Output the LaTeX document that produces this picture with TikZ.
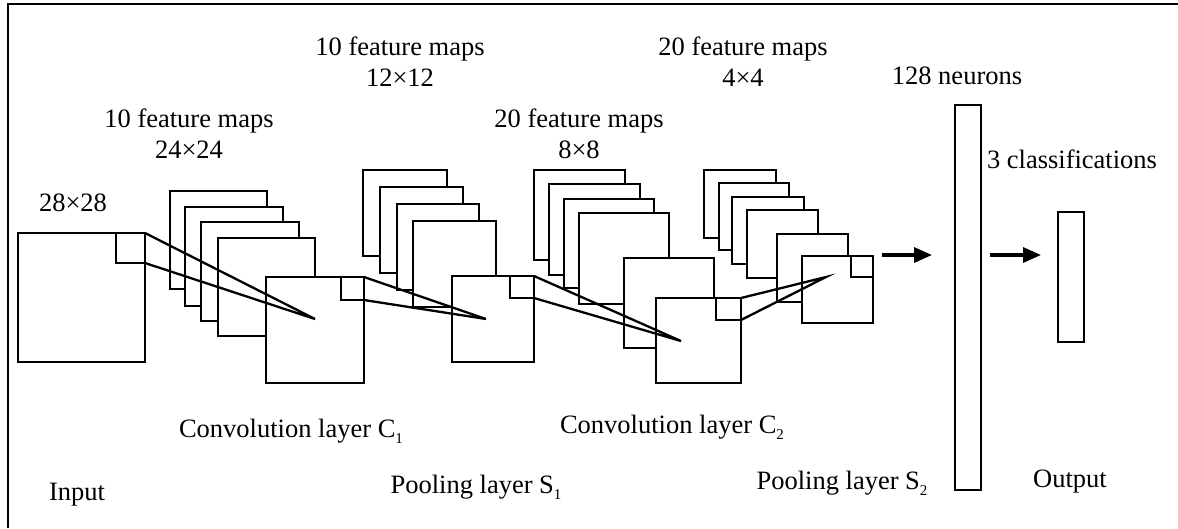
\documentclass[tikz,border=0pt]{standalone}
\usepackage{fontspec}
\setmainfont{Liberation Serif}
\usetikzlibrary{arrows.meta}
\newcommand\sbs[1]{\raisebox{-0.25em}{\fontsize{15}{16}\selectfont #1}}
\begin{document}
\begin{tikzpicture}[x=1pt,y=-1pt,
  fmap/.style={draw, fill=white, line width=2.8pt, inner sep=0pt, outer sep=0pt, anchor=north west},
  wire/.style={line width=2.3pt},
  lbl/.style={anchor=base, inner sep=0pt, font=\fontsize{26.5}{30}\selectfont},
  flow/.style={line width=3.2pt, -{Triangle[length=18pt,width=15pt]}},
  frameline/.style={line width=2.8pt}]
\useasboundingbox (0,0) rectangle (1178,528);
\draw[frameline] (8,528) -- (8,4) -- (1178,4);

% Input
\node[fmap, minimum width=127pt, minimum height=129pt] (in) at (18,233) {};
\node[fmap, minimum width=29pt, minimum height=30pt, anchor=north east] (ins) at (in.north east) {};

% C1
\node[fmap, minimum width=97pt, minimum height=98pt] (c1a) at (170,191) {};
\node[fmap, minimum width=98pt, minimum height=99pt] (c1b) at (185,207) {};
\node[fmap, minimum width=98pt, minimum height=99pt] (c1c) at (201,222) {};
\node[fmap, minimum width=97pt, minimum height=98pt] (c1d) at (218,238) {};
\node[fmap, minimum width=98pt, minimum height=106pt] (c1f) at (266,277) {};
\node[fmap, minimum width=23pt, minimum height=23pt, anchor=north east] (c1s) at (c1f.north east) {};

% S1
\node[fmap, minimum width=84pt, minimum height=86pt] (s1a) at (363,170) {};
\node[fmap, minimum width=83pt, minimum height=86pt] (s1b) at (380,187) {};
\node[fmap, minimum width=82pt, minimum height=86pt] (s1c) at (397,204) {};
\node[fmap, minimum width=83pt, minimum height=86pt] (s1d) at (413,221) {};
\node[fmap, minimum width=82pt, minimum height=86pt] (s1f) at (452,276) {};
\node[fmap, minimum width=24pt, minimum height=22pt, anchor=north east] (s1s) at (s1f.north east) {};

% C2
\node[fmap, minimum width=91pt, minimum height=90pt] (c2a) at (534,170) {};
\node[fmap, minimum width=91pt, minimum height=91pt] (c2b) at (549,184) {};
\node[fmap, minimum width=90pt, minimum height=89pt] (c2c) at (564,199) {};
\node[fmap, minimum width=90pt, minimum height=91pt] (c2d) at (579,213) {};
\node[fmap, minimum width=90pt, minimum height=90pt] (c2e) at (624,258) {};
\node[fmap, minimum width=85pt, minimum height=85pt] (c2f) at (656,298) {};
\node[fmap, minimum width=25pt, minimum height=22pt, anchor=north east] (c2s) at (c2f.north east) {};

% S2
\node[fmap, minimum width=72pt, minimum height=68pt] (s2a) at (704,170) {};
\node[fmap, minimum width=70pt, minimum height=67pt] (s2b) at (719,183) {};
\node[fmap, minimum width=72pt, minimum height=67pt] (s2c) at (732,197) {};
\node[fmap, minimum width=71pt, minimum height=68pt] (s2d) at (747,210) {};
\node[fmap, minimum width=71pt, minimum height=68pt] (s2e) at (777,234) {};
\node[fmap, minimum width=71pt, minimum height=67pt] (s2f) at (802,256) {};
\node[fmap, minimum width=22pt, minimum height=21pt, anchor=north east] (s2s) at (s2f.north east) {};

% Fully connected and output
\node[fmap, minimum width=26pt, minimum height=385pt] (fc) at (955,105) {};
\node[fmap, minimum width=26pt, minimum height=130pt] (out) at (1058,212) {};

% Convergence points
\coordinate (p1) at (315,319);
\coordinate (p2) at (486,319);
\coordinate (p3) at (681,341);
\coordinate (p4) at (826,277);

\draw[wire] (ins.north east) -- (p1) -- (ins.south east);
\draw[wire] (c1s.north east) -- (p2) -- (c1s.south east);
\draw[wire] (s1s.north east) -- (p3) -- (s1s.south east);
\draw[wire] (c2s.north east) -- (p4) -- (c2s.south east);

% Arrows
\coordinate (a1s) at (882,255);
\coordinate (a1e) at (932,255);
\coordinate (a2s) at (990,255);
\coordinate (a2e) at (1041,255);
\draw[flow] (a1s) -- (a1e);
\draw[flow] (a2s) -- (a2e);

% Labels
\node[lbl] (l1) at (400,55) {10 feature maps};
\node[lbl] (l2) at (400,86) {12×12};
\node[lbl] (l3) at (743,55) {20 feature maps};
\node[lbl] (l4) at (743,86) {4×4};
\node[lbl] (l5) at (189,127) {10 feature maps};
\node[lbl] (l6) at (189,158) {24×24};
\node[lbl] (l7) at (579,127) {20 feature maps};
\node[lbl] (l8) at (579,158) {8×8};
\node[lbl] (l9) at (73,211) {28×28};
\node[lbl] (l10) at (957,84) {128 neurons};
\node[lbl] (l11) at (1072,168) {3 classifications};
\node[lbl] (l12) at (291,437) {Convolution layer C\sbs{1}};
\node[lbl] (l13) at (672,433) {Convolution layer C\sbs{2}};
\node[lbl] (l14) at (77,500) {Input};
\node[lbl] (l15) at (476,493) {Pooling layer S\sbs{1}};
\node[lbl] (l16) at (842,489) {Pooling layer S\sbs{2}};
\node[lbl] (l17) at (1070,487) {Output};
\end{tikzpicture}
\end{document}
